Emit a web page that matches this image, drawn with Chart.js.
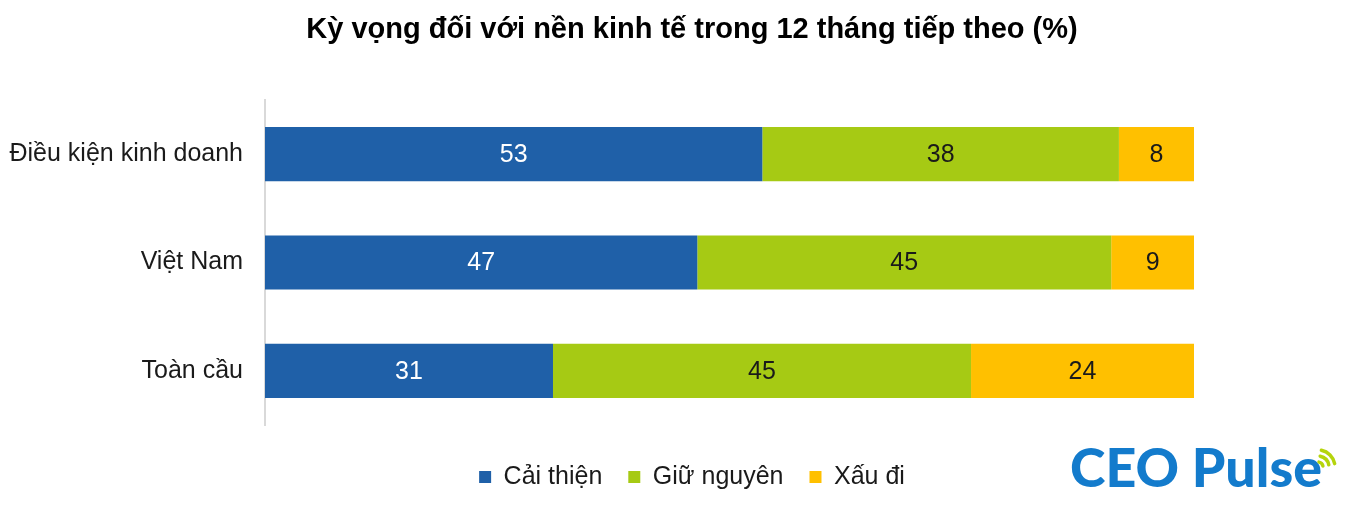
<!DOCTYPE html>
<html>
<head>
<meta charset="utf-8">
<script src="https://cdn.jsdelivr.net/npm/chart.js@4"></script>
<style>
html, body { margin: 0; padding: 0; background: #fff; }
#wrap { width: 1355px; height: 505px; }
</style>
</head>
<body>
<div id="wrap"><canvas id="myChart"></canvas></div>
<script>
var categories = ['Điều kiện kinh doanh', 'Việt Nam', 'Toàn cầu'];
var seriesNames = ['Cải thiện', 'Giữ nguyên', 'Xấu đi'];
var caiThien = [53, 47, 31];
var giuNguyen = [38, 45, 45];
var xauDi = [8, 9, 24];

var colors = ['#1f60a8', '#a6ca14', '#ffc000'];
var labelColors = ['#ffffff', '#1a1a1a', '#1a1a1a'];
var font = 'Liberation Sans, Arial, sans-serif';

// 100% stacked: each row is scaled to its own total
var raw = [caiThien, giuNguyen, xauDi];
var totals = categories.map(function (c, i) {
    return caiThien[i] + giuNguyen[i] + xauDi[i];
});

var datasets = raw.map(function (vals, k) {
    return {
        label: seriesNames[k],
        data: vals.map(function (v, i) { return v / totals[i] * 100; }),
        rawValues: vals,
        backgroundColor: colors[k],
        borderWidth: 0,
        barPercentage: 1,
        categoryPercentage: 0.5
    };
});

// widest category label, so the mirrored ticks can sit left of the axis
var m = document.createElement('canvas').getContext('2d');
m.font = '25px ' + font;
var widest = Math.max.apply(null, categories.map(function (c) { return m.measureText(c).width; }));

// numbers in the middle of each segment
var valueLabels = {
    id: 'valueLabels',
    afterDatasetsDraw: function (chart) {
        var ctx = chart.ctx;
        ctx.save();
        ctx.font = '25px ' + font;
        ctx.textAlign = 'center';
        ctx.textBaseline = 'middle';
        chart.data.datasets.forEach(function (ds, k) {
            chart.getDatasetMeta(k).data.forEach(function (bar, i) {
                ctx.fillStyle = labelColors[k];
                ctx.fillText(ds.rawValues[i], (bar.x + bar.base) / 2, bar.y + 1);
            });
        });
        ctx.restore();
    }
};

// CEO Pulse logo, bottom right
var logo = {
    id: 'logo',
    afterDraw: function (chart) {
        var ctx = chart.ctx;
        ctx.save();
        ctx.font = '900 44px Lato, sans-serif';
        var w = ctx.measureText('CEO Pulse').width;
        var size = 44 * 252 / w;
        ctx.font = '900 ' + size + 'px Lato, sans-serif';
        ctx.fillStyle = '#137bcc';
        ctx.textBaseline = 'alphabetic';
        ctx.fillText('CEO Pulse', 1070, 487);
        ctx.strokeStyle = '#b5d40c';
        ctx.lineWidth = 3.5;
        ctx.lineCap = 'round';
        [5, 11, 17].forEach(function (r) {
            ctx.beginPath();
            ctx.arc(1318, 467, r, -Math.PI / 2 + 0.2, -0.2);
            ctx.stroke();
        });
        ctx.restore();
    }
};

var ctx = document.getElementById('myChart').getContext('2d');
var myChart = new Chart(ctx, {
    type: 'bar',
    data: {
        labels: categories,
        datasets: datasets
    },
    options: {
        indexAxis: 'y',
        responsive: true,
        maintainAspectRatio: false,
        animation: false,
        layout: {
            padding: { left: 190, right: 161, top: 0, bottom: 5.5 }
        },
        plugins: {
            title: {
                display: true,
                text: 'Kỳ vọng đối với nền kinh tế trong 12 tháng tiếp theo (%)',
                color: '#000',
                font: { family: font, size: 29, weight: 'bold' },
                padding: { top: 12.6, bottom: 52.6 }
            },
            legend: {
                position: 'bottom',
                labels: {
                    boxWidth: 12,
                    boxHeight: 12,
                    padding: 26,
                    color: '#1a1a1a',
                    font: { family: font, size: 25 }
                }
            },
            tooltip: { enabled: false }
        },
        scales: {
            x: {
                stacked: true,
                min: 0,
                max: 100,
                grid: { display: false },
                border: { display: false },
                ticks: { display: false },
                afterFit: function (s) { s.height = 13.5; }
            },
            y: {
                stacked: true,
                grid: { display: false },
                border: { color: '#d9d9d9', width: 2 },
                ticks: {
                    mirror: true,
                    crossAlign: 'far',
                    padding: -(22 + widest),
                    color: '#1a1a1a',
                    font: { family: font, size: 25 }
                },
                afterFit: function (s) { s.width = 75; }
            }
        }
    },
    plugins: [valueLabels, logo]
});
</script>
</body>
</html>
